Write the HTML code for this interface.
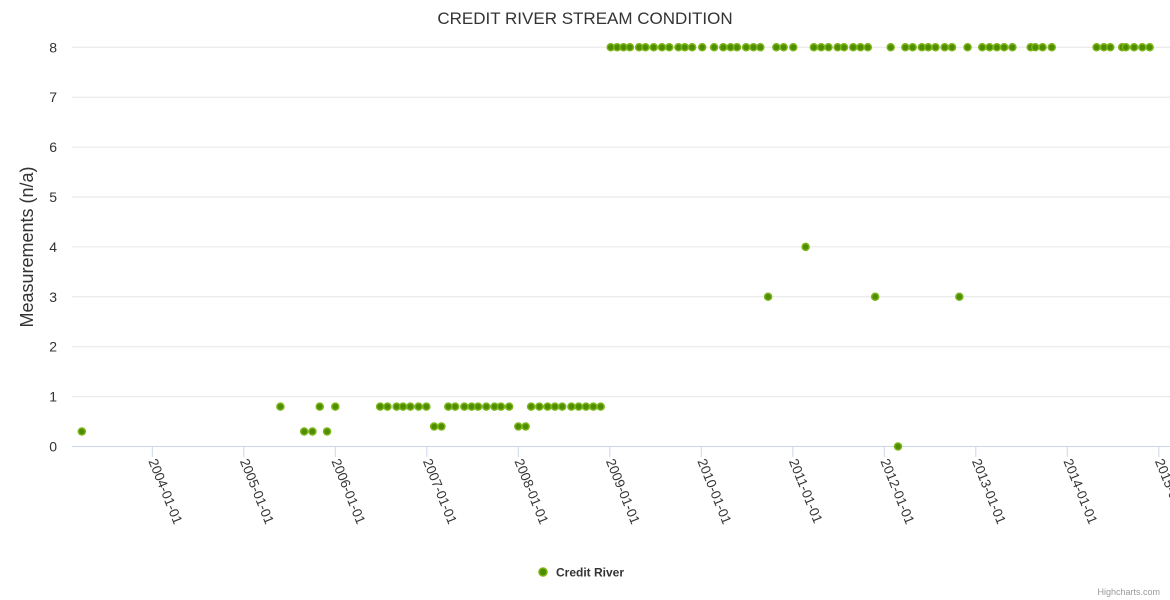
<!DOCTYPE html>
<html><head><meta charset="utf-8"><style>
html,body{margin:0;padding:0;background:#fff;width:1170px;height:600px;overflow:hidden}
svg{font-family:"Liberation Sans","DejaVu Sans",sans-serif}
</style></head><body>
<svg id="chart" width="1170" height="600">
<text x="585" y="24" text-anchor="middle" font-size="17" fill="#333">CREDIT RIVER STREAM CONDITION</text>
<text transform="translate(33,247) rotate(-90)" text-anchor="middle" font-size="18" fill="#333">Measurements (n/a)</text>
<g id="grid"></g><g id="xaxis"></g><g id="pts"></g>
<g>
<circle cx="543" cy="572" r="4" fill="#4e8c00" stroke="#7cb518" stroke-width="1.5"/>
<text x="556" y="576.5" font-size="12" font-weight="bold" fill="#333">Credit River</text></g>
<text x="1160" y="595" text-anchor="end" font-size="9" fill="#999">Highcharts.com</text>
</svg>
<script>
const yTicks=[0,1,2,3,4,5,6,7,8];
const xTickYears=[2004,2005,2006,2007,2008,2009,2010,2011,2012,2013,2014,2015];
const years=[2003.23,2005.40,2005.66,2005.75,2005.83,2005.91,2006.00,2006.49,2006.57,2006.67,2006.74,2006.82,2006.91,2006.995,2007.08,2007.16,2007.235,2007.31,2007.41,2007.49,2007.56,2007.65,2007.74,2007.81,2007.90,2008.00,2008.08,2008.14,2008.23,2008.32,2008.40,2008.48,2008.58,2008.66,2008.74,2008.82,2008.90,
2009.01,2009.08,2009.15,2009.22,2009.32,2009.39,2009.48,2009.57,2009.65,2009.75,2009.82,2009.90,
2010.01,2010.14,2010.24,2010.32,2010.39,2010.49,2010.57,2010.645,2010.73,2010.82,2010.90,
2011.005,2011.14,2011.23,2011.31,2011.39,2011.49,2011.56,2011.66,2011.74,2011.82,2011.90,
2012.07,2012.15,2012.23,2012.31,2012.41,2012.48,2012.56,2012.66,2012.74,2012.82,2012.91,
2013.07,2013.15,2013.23,2013.31,2013.40,2013.60,2013.65,2013.73,2013.83,
2014.32,2014.40,2014.47,2014.60,2014.64,2014.73,2014.82,2014.90];
const values=[0.3,0.8,0.3,0.3,0.8,0.3,0.8,0.8,0.8,0.8,0.8,0.8,0.8,0.8,0.4,0.4,0.8,0.8,0.8,0.8,0.8,0.8,0.8,0.8,0.8,0.4,0.4,0.8,0.8,0.8,0.8,0.8,0.8,0.8,0.8,0.8,0.8,
8,8,8,8,8,8,8,8,8,8,8,8,
8,8,8,8,8,8,8,8,3,8,8,
8,4,8,8,8,8,8,8,8,8,3,
8,0,8,8,8,8,8,8,8,3,8,
8,8,8,8,8,8,8,8,8,
8,8,8,8,8,8,8,8];
const NS='http://www.w3.org/2000/svg';
const X0=152.3,PX=91.5,Y0=446.5,PY=49.9;
function xs(yr){return X0+(yr-2004)*PX;}
function ys(v){return Y0-v*PY;}
function mk(t,a,p){const e=document.createElementNS(NS,t);for(const k in a)e.setAttribute(k,a[k]);p.appendChild(e);return e;}
const grid=document.getElementById('grid');
yTicks.forEach(v=>{
 const l=mk('line',{x1:72,x2:1170,y1:ys(v),y2:ys(v),stroke:v===0?'#ccd6eb':'#e6e6e6','stroke-width':1},grid);
 
 
 const t=mk('text',{x:57,y:ys(v)+5,'text-anchor':'end','font-size':14,fill:'#333'},grid);
 t.textContent=v;
 
 
});
const xa=document.getElementById('xaxis');
xTickYears.forEach(yr=>{
 const x=xs(yr);
 const tk=mk('line',{x1:x,x2:x,y1:446.5,y2:457,stroke:'#ccd6eb'},xa);
 
 
 const t=mk('text',{transform:`translate(${x-4},${461}) rotate(68)`,'font-size':13.5,fill:'#333'},xa);
 t.textContent=yr+'-01-01';
 
 
});
const pts=document.getElementById('pts');
years.forEach((yr,i)=>{
 const c=mk('circle',{cx:xs(yr),cy:ys(values[i]),r:3.5,fill:'#4e8c00',stroke:'#7cb518','stroke-width':1.5},pts);
 
 
});
</script>
</body></html>
